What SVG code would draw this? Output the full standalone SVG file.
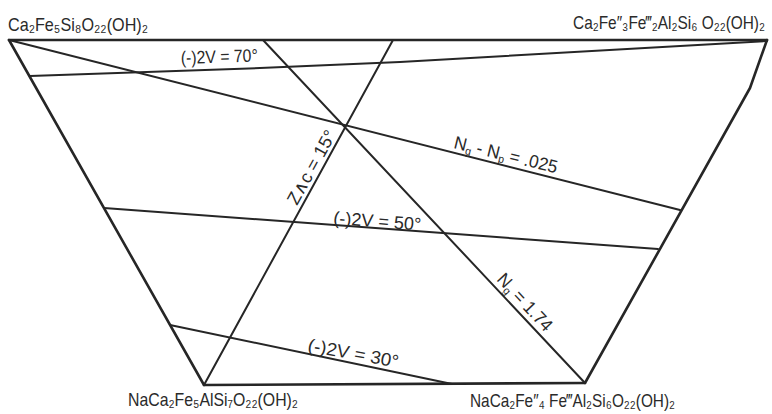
<svg xmlns="http://www.w3.org/2000/svg" width="772" height="414" viewBox="0 0 772 414">
<style>
.ln{fill:none;stroke:#262626;stroke-width:2;stroke-linejoin:round;stroke-linecap:round}
.edge{stroke-width:2.6}
.t{font-family:"Liberation Sans","DejaVu Sans",Arial,sans-serif;font-size:18px;fill:#2a2a2a}
.f{font-size:19px}
.sb{font-size:11px}
</style>
<rect width="772" height="414" fill="#ffffff"/>
<g id="connectors">
<line class="ln edge" x1="9" y1="40" x2="767" y2="40"/>
<line class="ln edge" x1="9" y1="40" x2="204" y2="385"/>
<line class="ln edge" x1="204" y1="385" x2="585" y2="383"/>
<polyline class="ln edge" points="767,40 750,88 585,383"/>
<polyline class="ln" points="30,76 260,68 400,62 767,41"/>
<line class="ln" x1="9" y1="40" x2="680" y2="210"/>
<line class="ln" x1="104" y1="208" x2="658" y2="249"/>
<line class="ln" x1="170" y1="325" x2="452" y2="384"/>
<line class="ln" x1="393" y1="40" x2="204" y2="385"/>
<line class="ln" x1="263" y1="40" x2="585" y2="383"/>
</g>
<g id="node-tl">
<text class="t f" x="8" y="31" textLength="140" lengthAdjust="spacingAndGlyphs">Ca₂Fe₅Si₈O₂₂(OH)₂</text>
</g>
<g id="node-tr">
<text class="t f" transform="translate(573,29) scale(0.817,1)" textLength="235" lengthAdjust="spacingAndGlyphs">Ca₂Fe″₃Fe‴₂Al₂Si₆ O₂₂(OH)₂</text>
</g>
<g id="node-bl">
<text class="t f" x="128" y="406" textLength="170" lengthAdjust="spacingAndGlyphs">NaCa₂Fe₅AlSi₇O₂₂(OH)₂</text>
</g>
<g id="node-br">
<text class="t f" x="470" y="407" textLength="205" lengthAdjust="spacingAndGlyphs">NaCa₂Fe″₄ Fe‴Al₂Si₆O₂₂(OH)₂</text>
</g>
<g id="label-70">
<text class="t" transform="translate(181,64) rotate(-1.8)" textLength="77" lengthAdjust="spacingAndGlyphs">(-)2V = 70°</text>
</g>
<g id="label-50">
<text class="t" transform="translate(333,224) rotate(4.2)" textLength="88" lengthAdjust="spacingAndGlyphs">(-)2V = 50°</text>
</g>
<g id="label-30">
<text class="t" transform="translate(307,351) rotate(10.5)" textLength="92" lengthAdjust="spacingAndGlyphs">(-)2V = 30°</text>
</g>
<g id="label-zac">
<text class="t" transform="translate(297,206) rotate(-61)" textLength="82" lengthAdjust="spacingAndGlyphs">Z∧c = 15°</text>
</g>
<g id="label-biref">
<text class="t" transform="translate(453,148) rotate(13.8)" textLength="106" lengthAdjust="spacingAndGlyphs">N<tspan class="sb" dy="3">g</tspan><tspan dy="-3"> - N</tspan><tspan class="sb" dy="3">p</tspan><tspan dy="-3"> = .025</tspan></text>
</g>
<g id="label-ng">
<text class="t" transform="translate(496,280) rotate(47)" textLength="72" lengthAdjust="spacingAndGlyphs">N<tspan class="sb" dy="3">g</tspan><tspan dy="-3"> = 1.74</tspan></text>
</g>
</svg>
